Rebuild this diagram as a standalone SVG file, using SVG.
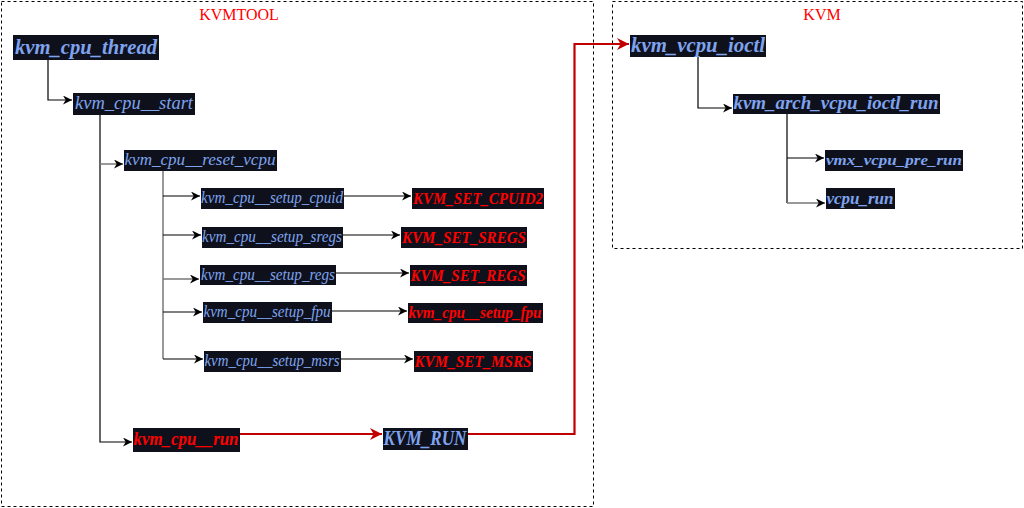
<svg xmlns="http://www.w3.org/2000/svg" width="1024" height="508" viewBox="0 0 1024 508">
<defs>
<style>
.box{fill:#0e111b}
.t{font-family:"Liberation Serif","Times New Roman",serif;font-style:italic;text-anchor:middle}
.b{font-weight:bold}
.blue{fill:#7fa3ee}
.red{fill:#ff0000}
.c{fill:none;stroke:#000;stroke-width:1.2}
.g{fill:none;stroke:#777;stroke-width:1.5}
.r{fill:none;stroke:#c00000;stroke-width:2.2}
.frame{fill:none;stroke:#000;stroke-width:1;stroke-dasharray:3,3}
.lbl{font-family:"Liberation Serif","Times New Roman",serif;font-size:16px;fill:#ff0000;text-anchor:middle}
</style>
<marker id="a" viewBox="0 0 10 10" refX="10" refY="5" markerWidth="9" markerHeight="9" markerUnits="userSpaceOnUse" orient="auto">
<path d="M0,0 L10,5 L0,10 L3,5 Z" fill="#000"/>
</marker>
<marker id="ar" viewBox="0 0 10 10" refX="10" refY="5" markerWidth="12" markerHeight="12" markerUnits="userSpaceOnUse" orient="auto">
<path d="M0,0 L10,5 L0,10 L3,5 Z" fill="#c00000"/>
</marker>
</defs>
<rect width="1024" height="508" fill="#fff"/>
<g id="kvmtool">
<rect class="frame" x="1.5" y="1.5" width="592" height="505"/>
<text class="lbl" x="239" y="20">KVMTOOL</text>
</g>
<g id="kvm">
<rect class="frame" x="612.5" y="1.5" width="410" height="247"/>
<text class="lbl" x="822" y="20">KVM</text>
</g>
<g id="connectors">
<path class="c" d="M48,60 V100 H72" marker-end="url(#a)"/>
<path class="c" d="M100,114 V442 H132" marker-end="url(#a)"/>
<path class="g" d="M100,164 H123" marker-end="url(#a)"/>
<path class="g" d="M163,171 V359"/>
<path class="c" d="M163,196 H200" marker-end="url(#a)"/>
<path class="c" d="M163,235 H201" marker-end="url(#a)"/>
<path class="g" d="M163,279 H199" marker-end="url(#a)"/>
<path class="c" d="M163,312 H202" marker-end="url(#a)"/>
<path class="c" d="M163,359 H203" marker-end="url(#a)"/>
<path class="c" d="M344,196 H411" marker-end="url(#a)"/>
<path class="c" d="M343,235 H400" marker-end="url(#a)"/>
<path class="c" d="M336,273 H409" marker-end="url(#a)"/>
<path class="c" d="M332,311 H407" marker-end="url(#a)"/>
<path class="c" d="M341,359 H413" marker-end="url(#a)"/>
<path class="r" d="M240,434 H382" marker-end="url(#ar)"/>
<path class="r" d="M468,434 H574.5 V44 H629" marker-end="url(#ar)"/>
<path class="c" d="M698,57 V108 H732" marker-end="url(#a)"/>
<path class="c" d="M787,113 V203"/>
<path class="c" d="M787,158 H824" marker-end="url(#a)"/>
<path class="g" d="M787,203 H825" marker-end="url(#a)"/>
</g>
<g id="n-thread"><rect class="box" x="13" y="35" width="146" height="25"/><text class="t b blue" x="86" y="54" font-size="22" textLength="142" lengthAdjust="spacingAndGlyphs">kvm_cpu_thread</text></g>
<g id="n-start"><rect class="box" x="73" y="93" width="122" height="22"/><text class="t blue" x="134" y="109" font-size="18" textLength="118" lengthAdjust="spacingAndGlyphs">kvm_cpu__start</text></g>
<g id="n-reset"><rect class="box" x="124" y="150" width="153" height="21"/><text class="t blue" x="200" y="165" font-size="16" textLength="151" lengthAdjust="spacingAndGlyphs">kvm_cpu__reset_vcpu</text></g>
<g id="n-cpuid"><rect class="box" x="201" y="188" width="143" height="21"/><text class="t blue" x="272" y="203" font-size="16" textLength="142" lengthAdjust="spacingAndGlyphs">kvm_cpu__setup_cpuid</text></g>
<g id="n-sregs"><rect class="box" x="202" y="227" width="141" height="21"/><text class="t blue" x="272" y="242" font-size="16" textLength="140" lengthAdjust="spacingAndGlyphs">kvm_cpu__setup_sregs</text></g>
<g id="n-regs"><rect class="box" x="200" y="265" width="136" height="20"/><text class="t blue" x="268" y="280" font-size="16" textLength="134" lengthAdjust="spacingAndGlyphs">kvm_cpu__setup_regs</text></g>
<g id="n-fpu"><rect class="box" x="203" y="302" width="129" height="21"/><text class="t blue" x="267" y="317" font-size="16" textLength="127" lengthAdjust="spacingAndGlyphs">kvm_cpu__setup_fpu</text></g>
<g id="n-msrs"><rect class="box" x="204" y="351" width="137" height="21"/><text class="t blue" x="272" y="366" font-size="16" textLength="135" lengthAdjust="spacingAndGlyphs">kvm_cpu__setup_msrs</text></g>
<g id="n-setcpuid"><rect class="box" x="412" y="188" width="132" height="21"/><text class="t b red" x="478" y="204" font-size="16" textLength="130" lengthAdjust="spacingAndGlyphs">KVM_SET_CPUID2</text></g>
<g id="n-setsregs"><rect class="box" x="401" y="227" width="126" height="21"/><text class="t b red" x="464" y="243" font-size="16" textLength="124" lengthAdjust="spacingAndGlyphs">KVM_SET_SREGS</text></g>
<g id="n-setregs"><rect class="box" x="410" y="265" width="117" height="21"/><text class="t b red" x="468" y="281" font-size="16" textLength="115" lengthAdjust="spacingAndGlyphs">KVM_SET_REGS</text></g>
<g id="n-fpu2"><rect class="box" x="408" y="303" width="135" height="20"/><text class="t b red" x="475" y="318" font-size="16" textLength="133" lengthAdjust="spacingAndGlyphs">kvm_cpu__setup_fpu</text></g>
<g id="n-setmsrs"><rect class="box" x="414" y="351" width="119" height="21"/><text class="t b red" x="473" y="367" font-size="16" textLength="117" lengthAdjust="spacingAndGlyphs">KVM_SET_MSRS</text></g>
<g id="n-run"><rect class="box" x="133" y="428" width="107" height="24"/><text class="t b red" x="186" y="445" font-size="19" textLength="105" lengthAdjust="spacingAndGlyphs">kvm_cpu__run</text></g>
<g id="n-kvmrun"><rect class="box" x="383" y="428" width="85" height="22"/><text class="t b blue" x="425" y="445" font-size="20" textLength="83" lengthAdjust="spacingAndGlyphs">KVM_RUN</text></g>
<g id="n-ioctl"><rect class="box" x="630" y="35" width="136" height="22"/><text class="t b blue" x="698" y="52" font-size="20" textLength="134" lengthAdjust="spacingAndGlyphs">kvm_vcpu_ioctl</text></g>
<g id="n-arch"><rect class="box" x="733" y="94" width="207" height="20"/><text class="t b blue" x="836" y="109" font-size="18" textLength="205" lengthAdjust="spacingAndGlyphs">kvm_arch_vcpu_ioctl_run</text></g>
<g id="n-pre"><rect class="box" x="825" y="150" width="138" height="21"/><text class="t b blue" x="894" y="165" font-size="15" textLength="136" lengthAdjust="spacingAndGlyphs">vmx_vcpu_pre_run</text></g>
<g id="n-vcpurun"><rect class="box" x="826" y="188" width="69" height="21"/><text class="t b blue" x="860" y="204" font-size="16" textLength="67" lengthAdjust="spacingAndGlyphs">vcpu_run</text></g>
</svg>
